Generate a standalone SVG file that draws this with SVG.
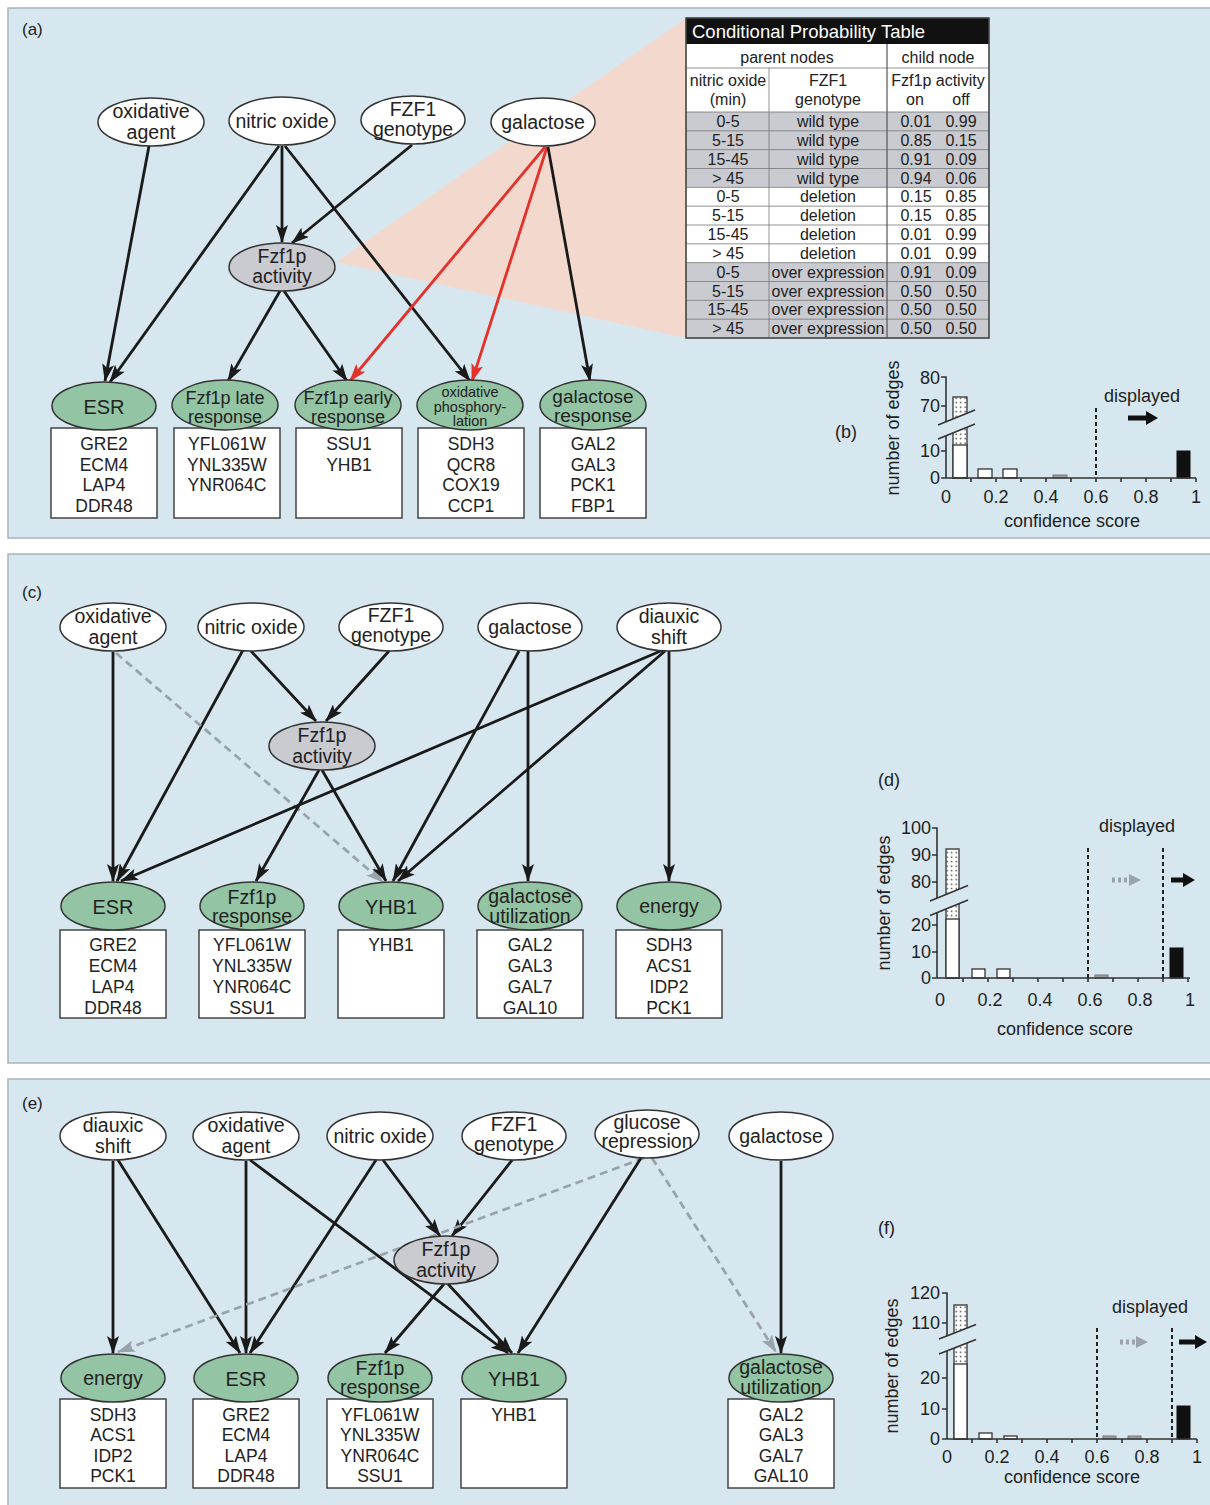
<svg xmlns="http://www.w3.org/2000/svg" width="1210" height="1505" viewBox="0 0 1210 1505">
<defs>
<style>
text{font-family:"Liberation Sans",Arial,sans-serif;fill:#222}
.panel{fill:#d7e7ef;stroke:#a9b4bc;stroke-width:1.5}
.src{fill:#fff;stroke:#333;stroke-width:1.5}
.hid{fill:#c9cbd1;stroke:#333;stroke-width:1.5}
.mod{fill:#93c4a3;stroke:#333;stroke-width:1.5}
.box{fill:#fff;stroke:#444;stroke-width:1.5}
.nl{font-size:19.5px;text-anchor:middle}
.ml{font-size:18px;text-anchor:middle}
.bl{font-size:17.5px;text-anchor:middle}
.lab{font-size:17px}
.e{stroke:#1a1a1a;stroke-width:2.8;fill:none;marker-end:url(#ah)}
.r{stroke:#e5312b;stroke-width:2.8;fill:none;marker-end:url(#ahr)}
.d{stroke:#9aa3ab;stroke-width:2.8;fill:none;stroke-dasharray:8,5;marker-end:url(#ahg)}
.tt{font-size:16px;text-anchor:middle}
.tl{stroke:#777;stroke-width:0.8}
.ax{stroke:#333;stroke-width:1.6;fill:none}
.hl{font-size:18px;text-anchor:middle}
.yl{font-size:18px;text-anchor:end}
.dash{stroke:#222;stroke-width:2;stroke-dasharray:4,3}
.wb{fill:#fff;stroke:#333;stroke-width:1.3}
.db{fill:url(#dots);stroke:#333;stroke-width:1.3}
.gb{fill:#9b9ea3;stroke:#777;stroke-width:1}
.kb{fill:#111;stroke:#111;stroke-width:1}
</style>
<marker id="ah" markerUnits="userSpaceOnUse" markerWidth="18" markerHeight="12" viewBox="0 0 18 12" refX="17" refY="6" orient="auto"><path d="M0,0 L18,6 L0,12 L4,6 z" fill="#1a1a1a"/></marker>
<marker id="ahr" markerUnits="userSpaceOnUse" markerWidth="18" markerHeight="12" viewBox="0 0 18 12" refX="17" refY="6" orient="auto"><path d="M0,0 L18,6 L0,12 L4,6 z" fill="#e5312b"/></marker>
<marker id="ahg" markerUnits="userSpaceOnUse" markerWidth="18" markerHeight="12" viewBox="0 0 18 12" refX="17" refY="6" orient="auto"><path d="M0,0 L18,6 L0,12 L4,6 z" fill="#9aa3ab"/></marker>
<pattern id="dots" width="4.5" height="4.5" patternUnits="userSpaceOnUse"><rect width="4.5" height="4.5" fill="#fff"/><circle cx="2.2" cy="2.2" r="0.8" fill="#333"/></pattern>
</defs>

<!-- panels -->
<rect class="panel" x="8" y="8" width="1215" height="530"/>
<rect class="panel" x="8" y="554" width="1215" height="509"/>
<rect class="panel" x="8" y="1079" width="1215" height="440"/>

<!-- ===================== PANEL (a) ===================== -->
<g id="panel-a">
<text class="lab" x="22" y="35">(a)</text>
<polygon points="336,262 686,18 686,338" fill="#f3d9cd"/>
<g id="edges-a">
<line class="e" x1="149" y1="146" x2="105" y2="381"/>
<line class="e" x1="279" y1="146" x2="110" y2="382"/>
<line class="e" x1="282" y1="146" x2="282" y2="242"/>
<line class="e" x1="412" y1="145" x2="292" y2="243"/>
<line class="e" x1="285" y1="146" x2="470" y2="381"/>
<line class="e" x1="280" y1="291" x2="228" y2="381"/>
<line class="e" x1="284" y1="291" x2="347" y2="381"/>
<line class="r" x1="545" y1="147" x2="350" y2="381"/>
<line class="r" x1="547" y1="147" x2="472" y2="381"/>
<line class="e" x1="548" y1="147" x2="590" y2="381"/>
</g>
<g id="a-oxidative"><ellipse class="src" cx="151" cy="122" rx="53" ry="24"/><text class="nl" x="151" y="118">oxidative</text><text class="nl" x="151" y="139">agent</text></g>
<g id="a-nitric"><ellipse class="src" cx="282" cy="121" rx="53" ry="24"/><text class="nl" x="282" y="128">nitric oxide</text></g>
<g id="a-fzf1"><ellipse class="src" cx="413" cy="120" rx="52" ry="24"/><text class="nl" x="413" y="116">FZF1</text><text class="nl" x="413" y="136">genotype</text></g>
<g id="a-galactose"><ellipse class="src" cx="543" cy="122" rx="52" ry="24"/><text class="nl" x="543" y="129">galactose</text></g>
<g id="a-fzf1p"><ellipse class="hid" cx="282" cy="267" rx="53" ry="24"/><text class="nl" x="282" y="263">Fzf1p</text><text class="nl" x="282" y="283">activity</text></g>

<g id="a-esr"><rect class="box" x="51" y="428" width="106" height="90"/><ellipse class="mod" cx="104" cy="406" rx="52" ry="24"/><text x="104" y="414" style="font-size:20px;text-anchor:middle">ESR</text>
<text class="bl" x="104" y="450">GRE2</text><text class="bl" x="104" y="471">ECM4</text><text class="bl" x="104" y="491">LAP4</text><text class="bl" x="104" y="512">DDR48</text></g>
<g id="a-late"><rect class="box" x="174" y="428" width="106" height="90"/><ellipse class="mod" cx="225" cy="405" rx="53" ry="25"/><text class="ml" x="225" y="404">Fzf1p late</text><text class="ml" x="225" y="423">response</text>
<text class="bl" x="227" y="450">YFL061W</text><text class="bl" x="227" y="471">YNL335W</text><text class="bl" x="227" y="491">YNR064C</text></g>
<g id="a-early"><rect class="box" x="296" y="428" width="106" height="90"/><ellipse class="mod" cx="348" cy="405" rx="53" ry="25"/><text class="ml" x="348" y="404">Fzf1p early</text><text class="ml" x="348" y="423">response</text>
<text class="bl" x="349" y="450">SSU1</text><text class="bl" x="349" y="471">YHB1</text></g>
<g id="a-oxphos"><rect class="box" x="418" y="428" width="106" height="90"/><ellipse class="mod" cx="470" cy="405" rx="53" ry="25"/><text x="470" y="397" style="font-size:14.5px;text-anchor:middle">oxidative</text><text x="470" y="412" style="font-size:14.5px;text-anchor:middle">phosphory-</text><text x="470" y="426" style="font-size:14.5px;text-anchor:middle">lation</text>
<text class="bl" x="471" y="450">SDH3</text><text class="bl" x="471" y="471">QCR8</text><text class="bl" x="471" y="491">COX19</text><text class="bl" x="471" y="512">CCP1</text></g>
<g id="a-galresp"><rect class="box" x="540" y="428" width="106" height="90"/><ellipse class="mod" cx="593" cy="405" rx="53" ry="25"/><text class="ml" x="593" y="403" style="font-size:19px">galactose</text><text class="ml" x="593" y="422" style="font-size:19px">response</text>
<text class="bl" x="593" y="450">GAL2</text><text class="bl" x="593" y="471">GAL3</text><text class="bl" x="593" y="491">PCK1</text><text class="bl" x="593" y="512">FBP1</text></g>

<!-- CPT table -->
<g id="cpt">
<rect x="686" y="18" width="303" height="320" fill="#fff"/>
<rect x="686" y="112" width="303" height="75.33" fill="#c9cbd1"/>
<rect x="686" y="262.67" width="303" height="75.33" fill="#c9cbd1"/>
<rect x="686" y="18" width="303" height="26" fill="#111"/>
<text x="692" y="38" style="font-size:18.5px;fill:#fff">Conditional Probability Table</text>
<line class="tl" x1="686" y1="68" x2="989" y2="68"/>
<line class="tl" x1="686" y1="112" x2="989" y2="112"/>
<line class="tl" x1="686" y1="130.83" x2="989" y2="130.83"/>
<line class="tl" x1="686" y1="149.67" x2="989" y2="149.67"/>
<line class="tl" x1="686" y1="168.5" x2="989" y2="168.5"/>
<line class="tl" x1="686" y1="187.33" x2="989" y2="187.33"/>
<line class="tl" x1="686" y1="206.17" x2="989" y2="206.17"/>
<line class="tl" x1="686" y1="225" x2="989" y2="225"/>
<line class="tl" x1="686" y1="243.83" x2="989" y2="243.83"/>
<line class="tl" x1="686" y1="262.67" x2="989" y2="262.67"/>
<line class="tl" x1="686" y1="281.5" x2="989" y2="281.5"/>
<line class="tl" x1="686" y1="300.33" x2="989" y2="300.33"/>
<line class="tl" x1="686" y1="319.17" x2="989" y2="319.17"/>
<line class="tl" x1="769" y1="68" x2="769" y2="338"/>
<line x1="887" y1="44" x2="887" y2="338" stroke="#555" stroke-width="1.2"/>
<rect x="686" y="18" width="303" height="320" fill="none" stroke="#444" stroke-width="1.6"/>
<text class="tt" x="787" y="63">parent nodes</text><text class="tt" x="938" y="63">child node</text>
<text class="tt" x="728" y="86">nitric oxide</text><text class="tt" x="728" y="105">(min)</text>
<text class="tt" x="828" y="86">FZF1</text><text class="tt" x="828" y="105">genotype</text>
<text class="tt" x="938" y="86">Fzf1p activity</text><text class="tt" x="915" y="105">on</text><text class="tt" x="961" y="105">off</text>
<text class="tt" x="728" y="127">0-5</text><text class="tt" x="828" y="127">wild type</text><text class="tt" x="916" y="127">0.01</text><text class="tt" x="961" y="127">0.99</text>
<text class="tt" x="728" y="145.8">5-15</text><text class="tt" x="828" y="145.8">wild type</text><text class="tt" x="916" y="145.8">0.85</text><text class="tt" x="961" y="145.8">0.15</text>
<text class="tt" x="728" y="164.7">15-45</text><text class="tt" x="828" y="164.7">wild type</text><text class="tt" x="916" y="164.7">0.91</text><text class="tt" x="961" y="164.7">0.09</text>
<text class="tt" x="728" y="183.5">&gt; 45</text><text class="tt" x="828" y="183.5">wild type</text><text class="tt" x="916" y="183.5">0.94</text><text class="tt" x="961" y="183.5">0.06</text>
<text class="tt" x="728" y="202.3">0-5</text><text class="tt" x="828" y="202.3">deletion</text><text class="tt" x="916" y="202.3">0.15</text><text class="tt" x="961" y="202.3">0.85</text>
<text class="tt" x="728" y="221.2">5-15</text><text class="tt" x="828" y="221.2">deletion</text><text class="tt" x="916" y="221.2">0.15</text><text class="tt" x="961" y="221.2">0.85</text>
<text class="tt" x="728" y="240">15-45</text><text class="tt" x="828" y="240">deletion</text><text class="tt" x="916" y="240">0.01</text><text class="tt" x="961" y="240">0.99</text>
<text class="tt" x="728" y="258.8">&gt; 45</text><text class="tt" x="828" y="258.8">deletion</text><text class="tt" x="916" y="258.8">0.01</text><text class="tt" x="961" y="258.8">0.99</text>
<text class="tt" x="728" y="277.7">0-5</text><text class="tt" x="828" y="277.7">over expression</text><text class="tt" x="916" y="277.7">0.91</text><text class="tt" x="961" y="277.7">0.09</text>
<text class="tt" x="728" y="296.5">5-15</text><text class="tt" x="828" y="296.5">over expression</text><text class="tt" x="916" y="296.5">0.50</text><text class="tt" x="961" y="296.5">0.50</text>
<text class="tt" x="728" y="315.3">15-45</text><text class="tt" x="828" y="315.3">over expression</text><text class="tt" x="916" y="315.3">0.50</text><text class="tt" x="961" y="315.3">0.50</text>
<text class="tt" x="728" y="334.2">&gt; 45</text><text class="tt" x="828" y="334.2">over expression</text><text class="tt" x="916" y="334.2">0.50</text><text class="tt" x="961" y="334.2">0.50</text>
</g>

<!-- histogram (b) -->
<g id="hist-b">
<text class="lab" x="835" y="438" style="font-size:18px">(b)</text>
<text class="hl" transform="translate(899,428) rotate(-90)">number of edges</text>
<rect class="db" x="953" y="397" width="14" height="81"/>
<rect class="wb" x="953" y="445" width="14" height="33"/>
<rect class="wb" x="978" y="469" width="14" height="9"/>
<rect class="wb" x="1003" y="469" width="14" height="9"/>
<rect class="gb" x="1053" y="475" width="14" height="3"/>
<rect class="kb" x="1177" y="451" width="13" height="27"/>
<path class="ax" d="M941,377 H946 V478 H1196 M941,406 H946 M941,451 H946 M941,478 H946"/>
<path class="ax" d="M971,478 v4 M996,478 v4 M1021,478 v4 M1046,478 v4 M1071,478 v4 M1096,478 v4 M1121,478 v4 M1146,478 v4 M1171,478 v4 M1196,478 v4"/>
<polygon points="937,425.5 976,409.5 976,423.5 937,439.5" fill="#d7e7ef"/>
<line class="ax" x1="938" y1="425" x2="975" y2="410"/>
<line class="ax" x1="938" y1="439" x2="975" y2="424"/>
<line class="dash" x1="1096" y1="408" x2="1096" y2="478"/>
<text class="yl" x="940" y="484">0</text><text class="yl" x="940" y="457">10</text><text class="yl" x="940" y="412">70</text><text class="yl" x="940" y="384">80</text>
<text class="hl" x="946" y="503">0</text><text class="hl" x="996" y="503">0.2</text><text class="hl" x="1046" y="503">0.4</text><text class="hl" x="1096" y="503">0.6</text><text class="hl" x="1146" y="503">0.8</text><text class="hl" x="1196" y="503">1</text>
<text class="hl" x="1072" y="527">confidence score</text>
<text class="hl" x="1142" y="402">displayed</text>
<path d="M1128,415.5 H1146 V411 L1158,418 L1146,425 V420.5 H1128 z" fill="#111"/>
</g>
</g>

<!-- ===================== PANEL (c) ===================== -->
<g id="panel-c">
<text class="lab" x="22" y="598">(c)</text>
<g id="edges-c">
<line class="e" x1="113" y1="652" x2="113" y2="881"/>
<line class="e" x1="243" y1="650" x2="117" y2="881"/>
<line class="e" x1="251" y1="651" x2="316" y2="721"/>
<line class="e" x1="389" y1="651" x2="326" y2="721"/>
<line class="d" x1="116" y1="653" x2="383" y2="882"/>
<line class="e" x1="319" y1="770" x2="256" y2="881"/>
<line class="e" x1="322" y1="770" x2="386" y2="881"/>
<line class="e" x1="519" y1="651" x2="393" y2="881"/>
<line class="e" x1="528" y1="651" x2="528" y2="881"/>
<line class="e" x1="663" y1="650" x2="121" y2="881"/>
<line class="e" x1="665" y1="651" x2="398" y2="881"/>
<line class="e" x1="669" y1="651" x2="669" y2="881"/>
</g>
<g id="c-oxidative"><ellipse class="src" cx="113" cy="627" rx="53" ry="24"/><text class="nl" x="113" y="623">oxidative</text><text class="nl" x="113" y="644">agent</text></g>
<g id="c-nitric"><ellipse class="src" cx="251" cy="627" rx="53" ry="24"/><text class="nl" x="251" y="634">nitric oxide</text></g>
<g id="c-fzf1"><ellipse class="src" cx="391" cy="627" rx="52" ry="24"/><text class="nl" x="391" y="622">FZF1</text><text class="nl" x="391" y="642">genotype</text></g>
<g id="c-galactose"><ellipse class="src" cx="530" cy="627" rx="52" ry="24"/><text class="nl" x="530" y="634">galactose</text></g>
<g id="c-diauxic"><ellipse class="src" cx="669" cy="627" rx="52" ry="24"/><text class="nl" x="669" y="623">diauxic</text><text class="nl" x="669" y="644">shift</text></g>
<g id="c-fzf1p"><ellipse class="hid" cx="322" cy="746" rx="53" ry="24"/><text class="nl" x="322" y="742">Fzf1p</text><text class="nl" x="322" y="763">activity</text></g>

<g id="c-esr"><rect class="box" x="60" y="930" width="106" height="88"/><ellipse class="mod" cx="113" cy="906" rx="52" ry="24"/><text x="113" y="914" style="font-size:20px;text-anchor:middle">ESR</text>
<text class="bl" x="113" y="951">GRE2</text><text class="bl" x="113" y="972">ECM4</text><text class="bl" x="113" y="993">LAP4</text><text class="bl" x="113" y="1014">DDR48</text></g>
<g id="c-resp"><rect class="box" x="199" y="930" width="106" height="88"/><ellipse class="mod" cx="252" cy="906" rx="52" ry="24"/><text class="nl" x="252" y="904">Fzf1p</text><text class="nl" x="252" y="923">response</text>
<text class="bl" x="252" y="951">YFL061W</text><text class="bl" x="252" y="972">YNL335W</text><text class="bl" x="252" y="993">YNR064C</text><text class="bl" x="252" y="1014">SSU1</text></g>
<g id="c-yhb1"><rect class="box" x="338" y="930" width="106" height="88"/><ellipse class="mod" cx="391" cy="906" rx="52" ry="24"/><text x="391" y="914" style="font-size:20px;text-anchor:middle">YHB1</text>
<text class="bl" x="391" y="951">YHB1</text></g>
<g id="c-galutil"><rect class="box" x="477" y="930" width="106" height="88"/><ellipse class="mod" cx="530" cy="906" rx="52" ry="24"/><text class="nl" x="530" y="903">galactose</text><text class="nl" x="530" y="923">utilization</text>
<text class="bl" x="530" y="951">GAL2</text><text class="bl" x="530" y="972">GAL3</text><text class="bl" x="530" y="993">GAL7</text><text class="bl" x="530" y="1014">GAL10</text></g>
<g id="c-energy"><rect class="box" x="616" y="930" width="106" height="88"/><ellipse class="mod" cx="669" cy="906" rx="52" ry="24"/><text class="nl" x="669" y="913">energy</text>
<text class="bl" x="669" y="951">SDH3</text><text class="bl" x="669" y="972">ACS1</text><text class="bl" x="669" y="993">IDP2</text><text class="bl" x="669" y="1014">PCK1</text></g>

<!-- histogram (d) -->
<g id="hist-d">
<text class="lab" x="878" y="786" style="font-size:18px">(d)</text>
<text class="hl" transform="translate(890,903) rotate(-90)">number of edges</text>
<rect class="db" x="946" y="849" width="13" height="129"/>
<rect class="wb" x="946" y="919" width="13" height="59"/>
<rect class="wb" x="972" y="969" width="13" height="9"/>
<rect class="wb" x="997" y="969" width="13" height="9"/>
<rect class="gb" x="1095" y="975" width="13" height="3"/>
<rect class="kb" x="1170" y="948" width="13" height="30"/>
<path class="ax" d="M932,828 H937 V978 H1190 M932,855 H937 M932,882 H937 M932,925 H937 M932,952 H937 M932,978 H937"/>
<path class="ax" d="M963,978 v4 M988,978 v4 M1013,978 v4 M1038,978 v4 M1063,978 v4 M1088,978 v4 M1113,978 v4 M1138,978 v4 M1163,978 v4 M1188,978 v4"/>
<polygon points="929,901.5 969,885 969,899.5 929,916" fill="#d7e7ef"/>
<line class="ax" x1="930" y1="901" x2="968" y2="885.5"/>
<line class="ax" x1="930" y1="915.5" x2="968" y2="900"/>
<line class="dash" x1="1088" y1="848" x2="1088" y2="978"/>
<line class="dash" x1="1163" y1="848" x2="1163" y2="978"/>
<text class="yl" x="931" y="984">0</text><text class="yl" x="931" y="958">10</text><text class="yl" x="931" y="931">20</text><text class="yl" x="931" y="888">80</text><text class="yl" x="931" y="861">90</text><text class="yl" x="931" y="834">100</text>
<text class="hl" x="940" y="1006">0</text><text class="hl" x="990" y="1006">0.2</text><text class="hl" x="1040" y="1006">0.4</text><text class="hl" x="1090" y="1006">0.6</text><text class="hl" x="1140" y="1006">0.8</text><text class="hl" x="1190" y="1006">1</text>
<text class="hl" x="1065" y="1035">confidence score</text>
<text class="hl" x="1137" y="832">displayed</text>
<line x1="1112" y1="880" x2="1130" y2="880" stroke="#9aa3ab" stroke-width="5" stroke-dasharray="3,3"/>
<path d="M1129,874 L1141,880 L1129,886 z" fill="#9aa3ab"/>
<path d="M1171,877.5 H1183 V873 L1195,880 L1183,887 V882.5 H1171 z" fill="#111"/>
</g>
</g>

<!-- ===================== PANEL (e) ===================== -->
<g id="panel-e">
<text class="lab" x="22" y="1109">(e)</text>
<g id="edges-e">
<line class="e" x1="113" y1="1161" x2="113" y2="1353"/>
<line class="e" x1="118" y1="1160" x2="240" y2="1353"/>
<line class="e" x1="246" y1="1161" x2="246" y2="1353"/>
<line class="e" x1="250" y1="1160" x2="508" y2="1353"/>
<line class="e" x1="376" y1="1160" x2="250" y2="1353"/>
<line class="e" x1="383" y1="1160" x2="440" y2="1236"/>
<line class="e" x1="513" y1="1159" x2="452" y2="1236"/>
<line class="d" x1="644" y1="1158" x2="118" y2="1352"/>
<line class="d" x1="652" y1="1158" x2="776" y2="1352"/>
<line class="e" x1="641" y1="1158" x2="518" y2="1353"/>
<line class="e" x1="444" y1="1284" x2="385" y2="1353"/>
<line class="e" x1="448" y1="1284" x2="512" y2="1353"/>
<line class="e" x1="781" y1="1161" x2="781" y2="1353"/>
</g>
<g id="e-diauxic"><ellipse class="src" cx="113" cy="1136" rx="53" ry="24"/><text class="nl" x="113" y="1132">diauxic</text><text class="nl" x="113" y="1153">shift</text></g>
<g id="e-oxidative"><ellipse class="src" cx="246" cy="1136" rx="53" ry="24"/><text class="nl" x="246" y="1132">oxidative</text><text class="nl" x="246" y="1153">agent</text></g>
<g id="e-nitric"><ellipse class="src" cx="380" cy="1136" rx="53" ry="24"/><text class="nl" x="380" y="1143">nitric oxide</text></g>
<g id="e-fzf1"><ellipse class="src" cx="514" cy="1136" rx="52" ry="24"/><text class="nl" x="514" y="1131">FZF1</text><text class="nl" x="514" y="1151">genotype</text></g>
<g id="e-glucose"><ellipse class="src" cx="647" cy="1134" rx="52" ry="24"/><text class="nl" x="647" y="1129">glucose</text><text class="nl" x="647" y="1148">repression</text></g>
<g id="e-galactose"><ellipse class="src" cx="781" cy="1136" rx="52" ry="24"/><text class="nl" x="781" y="1143">galactose</text></g>
<g id="e-fzf1p"><ellipse class="hid" cx="446" cy="1260" rx="52" ry="24"/><text class="nl" x="446" y="1256">Fzf1p</text><text class="nl" x="446" y="1277">activity</text></g>

<g id="e-energy"><rect class="box" x="60" y="1399" width="106" height="89"/><ellipse class="mod" cx="113" cy="1378" rx="52" ry="24"/><text class="nl" x="113" y="1385">energy</text>
<text class="bl" x="113" y="1421">SDH3</text><text class="bl" x="113" y="1441">ACS1</text><text class="bl" x="113" y="1462">IDP2</text><text class="bl" x="113" y="1482">PCK1</text></g>
<g id="e-esr"><rect class="box" x="193" y="1399" width="106" height="89"/><ellipse class="mod" cx="246" cy="1378" rx="52" ry="24"/><text x="246" y="1386" style="font-size:20px;text-anchor:middle">ESR</text>
<text class="bl" x="246" y="1421">GRE2</text><text class="bl" x="246" y="1441">ECM4</text><text class="bl" x="246" y="1462">LAP4</text><text class="bl" x="246" y="1482">DDR48</text></g>
<g id="e-resp"><rect class="box" x="327" y="1399" width="106" height="89"/><ellipse class="mod" cx="380" cy="1378" rx="52" ry="24"/><text class="nl" x="380" y="1375">Fzf1p</text><text class="nl" x="380" y="1394">response</text>
<text class="bl" x="380" y="1421">YFL061W</text><text class="bl" x="380" y="1441">YNL335W</text><text class="bl" x="380" y="1462">YNR064C</text><text class="bl" x="380" y="1482">SSU1</text></g>
<g id="e-yhb1"><rect class="box" x="461" y="1399" width="106" height="89"/><ellipse class="mod" cx="514" cy="1378" rx="52" ry="24"/><text x="514" y="1386" style="font-size:20px;text-anchor:middle">YHB1</text>
<text class="bl" x="514" y="1421">YHB1</text></g>
<g id="e-galutil"><rect class="box" x="728" y="1399" width="106" height="89"/><ellipse class="mod" cx="781" cy="1378" rx="52" ry="24"/><text class="nl" x="781" y="1374">galactose</text><text class="nl" x="781" y="1394">utilization</text>
<text class="bl" x="781" y="1421">GAL2</text><text class="bl" x="781" y="1441">GAL3</text><text class="bl" x="781" y="1462">GAL7</text><text class="bl" x="781" y="1482">GAL10</text></g>

<!-- histogram (f) -->
<g id="hist-f">
<text class="lab" x="878" y="1234" style="font-size:18px">(f)</text>
<text class="hl" transform="translate(898,1366) rotate(-90)">number of edges</text>
<rect class="db" x="954" y="1305" width="13" height="134"/>
<rect class="wb" x="954" y="1364" width="13" height="75"/>
<rect class="wb" x="979" y="1433" width="13" height="6"/>
<rect class="wb" x="1004" y="1436" width="13" height="3"/>
<rect class="gb" x="1103" y="1436" width="13" height="3"/>
<rect class="gb" x="1128" y="1436" width="13" height="3"/>
<rect class="kb" x="1177" y="1406" width="13" height="33"/>
<path class="ax" d="M942,1293 H947 V1439 H1197 M942,1323 H947 M942,1378 H947 M942,1409 H947 M942,1439 H947"/>
<path class="ax" d="M972,1439 v4 M997,1439 v4 M1022,1439 v4 M1047,1439 v4 M1072,1439 v4 M1097,1439 v4 M1122,1439 v4 M1147,1439 v4 M1172,1439 v4 M1197,1439 v4"/>
<polygon points="938,1339.5 977,1324 977,1339 938,1354.5" fill="#d7e7ef"/>
<line class="ax" x1="939" y1="1339" x2="976" y2="1324.5"/>
<line class="ax" x1="939" y1="1354" x2="976" y2="1339.5"/>
<line class="dash" x1="1097" y1="1328" x2="1097" y2="1439"/>
<line class="dash" x1="1172" y1="1328" x2="1172" y2="1439"/>
<text class="yl" x="940" y="1445">0</text><text class="yl" x="940" y="1415">10</text><text class="yl" x="940" y="1384">20</text><text class="yl" x="940" y="1329">110</text><text class="yl" x="940" y="1299">120</text>
<text class="hl" x="947" y="1463">0</text><text class="hl" x="997" y="1463">0.2</text><text class="hl" x="1047" y="1463">0.4</text><text class="hl" x="1097" y="1463">0.6</text><text class="hl" x="1147" y="1463">0.8</text><text class="hl" x="1197" y="1463">1</text>
<text class="hl" x="1072" y="1483">confidence score</text>
<text class="hl" x="1150" y="1313">displayed</text>
<line x1="1120" y1="1342" x2="1137" y2="1342" stroke="#9aa3ab" stroke-width="5" stroke-dasharray="3,3"/>
<path d="M1136,1336 L1148,1342 L1136,1348 z" fill="#9aa3ab"/>
<path d="M1179,1339.5 H1195 V1335 L1207,1342 L1195,1349 V1344.5 H1179 z" fill="#111"/>
</g>
</g>
</svg>
